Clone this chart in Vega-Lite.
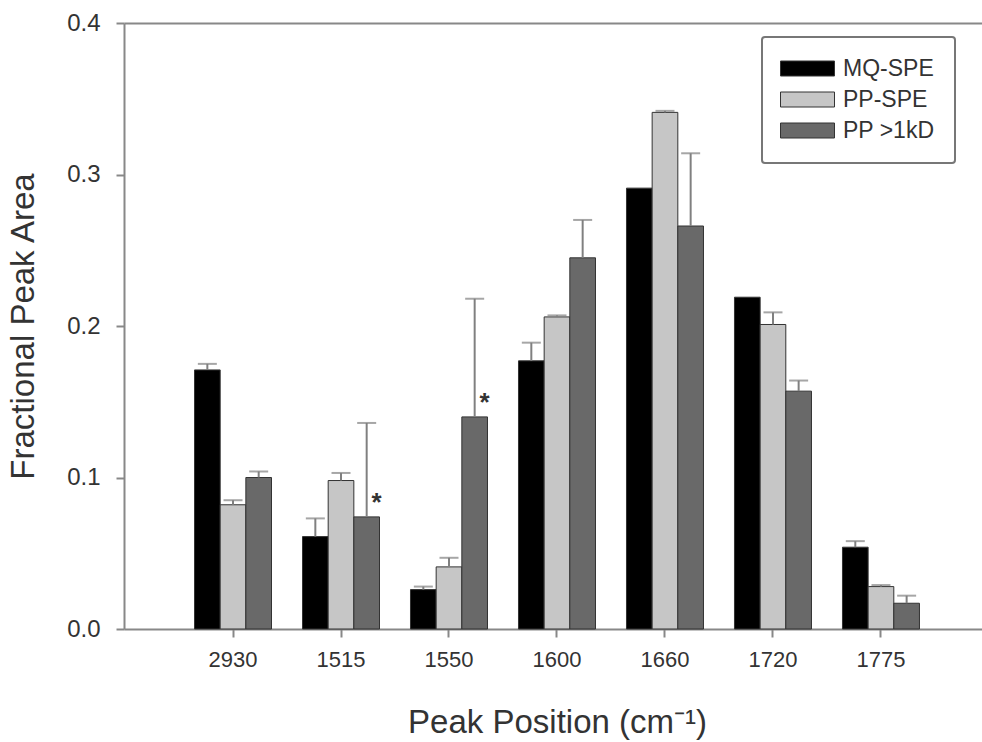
{
  "$schema": "https://vega.github.io/schema/vega-lite/v6.json",
  "width": 858,
  "height": 606,
  "autosize": "none",
  "padding": {"left": 124, "top": 23, "right": 0, "bottom": 113},
  "background": "white",
  "config": {
    "view": {"stroke": null},
    "font": "Liberation Sans",
    "axis": {
      "domainColor": "#888888",
      "domainWidth": 2,
      "tickColor": "#888888",
      "tickWidth": 2,
      "tickSize": 8,
      "labelColor": "#333333",
      "titleColor": "#333333",
      "titleFontWeight": "normal",
      "labelFont": "Liberation Sans",
      "titleFont": "Liberation Sans"
    },
    "legend": {
      "orient": "none",
      "legendX": 638,
      "legendY": 14,
      "direction": "vertical",
      "symbolType": "M-3.6,-1L3.6,-1L3.6,1L-3.6,1Z",
      "symbolSize": 225,
      "symbolOffset": 14,
      "symbolStrokeColor": "#333333",
      "symbolStrokeWidth": 1,
      "symbolOpacity": 1,
      "labelOffset": 24,
      "labelFontSize": 23,
      "labelFont": "Liberation Sans",
      "labelColor": "#333333",
      "rowPadding": 7,
      "padding": 20,
      "strokeColor": "#777777",
      "strokeWidth": 2,
      "fillColor": "white",
      "cornerRadius": 3
    }
  },
  "data": {
    "values": [
      {"peak": "2930", "sample": "MQ-SPE", "value": 0.171, "upper": 0.175, "sig": ""},
      {"peak": "2930", "sample": "PP-SPE", "value": 0.082, "upper": 0.085, "sig": ""},
      {"peak": "2930", "sample": "PP >1kD", "value": 0.100, "upper": 0.104, "sig": ""},
      {"peak": "1515", "sample": "MQ-SPE", "value": 0.061, "upper": 0.073, "sig": ""},
      {"peak": "1515", "sample": "PP-SPE", "value": 0.098, "upper": 0.103, "sig": ""},
      {"peak": "1515", "sample": "PP >1kD", "value": 0.074, "upper": 0.136, "sig": "*"},
      {"peak": "1550", "sample": "MQ-SPE", "value": 0.026, "upper": 0.028, "sig": ""},
      {"peak": "1550", "sample": "PP-SPE", "value": 0.041, "upper": 0.047, "sig": ""},
      {"peak": "1550", "sample": "PP >1kD", "value": 0.140, "upper": 0.218, "sig": "*"},
      {"peak": "1600", "sample": "MQ-SPE", "value": 0.177, "upper": 0.189, "sig": ""},
      {"peak": "1600", "sample": "PP-SPE", "value": 0.206, "upper": 0.207, "sig": ""},
      {"peak": "1600", "sample": "PP >1kD", "value": 0.245, "upper": 0.270, "sig": ""},
      {"peak": "1660", "sample": "MQ-SPE", "value": 0.291, "upper": 0.291, "sig": ""},
      {"peak": "1660", "sample": "PP-SPE", "value": 0.341, "upper": 0.342, "sig": ""},
      {"peak": "1660", "sample": "PP >1kD", "value": 0.266, "upper": 0.314, "sig": ""},
      {"peak": "1720", "sample": "MQ-SPE", "value": 0.219, "upper": 0.219, "sig": ""},
      {"peak": "1720", "sample": "PP-SPE", "value": 0.201, "upper": 0.209, "sig": ""},
      {"peak": "1720", "sample": "PP >1kD", "value": 0.157, "upper": 0.164, "sig": ""},
      {"peak": "1775", "sample": "MQ-SPE", "value": 0.054, "upper": 0.058, "sig": ""},
      {"peak": "1775", "sample": "PP-SPE", "value": 0.028, "upper": 0.029, "sig": ""},
      {"peak": "1775", "sample": "PP >1kD", "value": 0.017, "upper": 0.022, "sig": ""}
    ]
  },
  "encoding": {
    "x": {
      "field": "peak",
      "type": "nominal",
      "sort": ["2930", "1515", "1550", "1600", "1660", "1720", "1775"],
      "scale": {"paddingInner": 0.287, "paddingOuter": 0.616, "align": 0.53},
      "axis": {
        "title": "Peak Position (cm⁻¹)",
        "labelAngle": 0,
        "labelFontSize": 22,
        "labelPadding": 12,
        "titleFontSize": 33,
        "titleX": 433,
        "titleY": 103,
        "titleAlign": "center",
        "titleBaseline": "alphabetic"
      }
    },
    "xOffset": {
      "field": "sample",
      "type": "nominal",
      "sort": ["MQ-SPE", "PP-SPE", "PP >1kD"],
      "scale": {"paddingInner": 0, "paddingOuter": 0}
    }
  },
  "layer": [
    {
      "mark": {"type": "bar", "stroke": "#333333", "strokeWidth": 1},
      "encoding": {
        "y": {
          "field": "value",
          "type": "quantitative",
          "scale": {"domain": [0, 0.4], "nice": false},
          "axis": {
            "title": "Fractional Peak Area",
            "values": [0, 0.1, 0.2, 0.3, 0.4],
            "format": ".1f",
            "labelFontSize": 24,
            "labelPadding": 16,
            "titleFontSize": 33,
            "titleX": -91,
            "titleY": 303,
            "titleAngle": -90,
            "titleAlign": "center",
            "titleBaseline": "alphabetic",
            "grid": true,
            "gridColor": "#888888",
            "gridWidth": 2,
            "gridOpacity": {"condition": {"test": "datum.value >= 0.4", "value": 1}, "value": 0}
          }
        },
        "color": {
          "field": "sample",
          "type": "nominal",
          "sort": ["MQ-SPE", "PP-SPE", "PP >1kD"],
          "scale": {"domain": ["MQ-SPE", "PP-SPE", "PP >1kD"], "range": ["#000000", "#c6c6c6", "#696969"]},
          "legend": {"title": null}
        }
      }
    },
    {
      "transform": [{"filter": "datum.upper > datum.value"}],
      "mark": {"type": "rule", "color": "#808080", "strokeWidth": 2},
      "encoding": {
        "y": {"field": "value", "type": "quantitative", "title": "Fractional Peak Area"},
        "y2": {"field": "upper"}
      }
    },
    {
      "transform": [{"filter": "datum.upper > datum.value"}],
      "mark": {"type": "tick", "color": "#808080", "thickness": 2, "size": 19},
      "encoding": {"y": {"field": "upper", "type": "quantitative", "title": "Fractional Peak Area"}}
    },
    {
      "transform": [{"filter": "datum.sig == '*'"}],
      "mark": {"type": "text", "dx": 10, "dy": -6, "fontSize": 26, "fontWeight": "bold", "baseline": "alphabetic", "color": "#333333"},
      "encoding": {
        "y": {"field": "value", "type": "quantitative", "title": "Fractional Peak Area"},
        "text": {"field": "sig"}
      }
    }
  ]
}
